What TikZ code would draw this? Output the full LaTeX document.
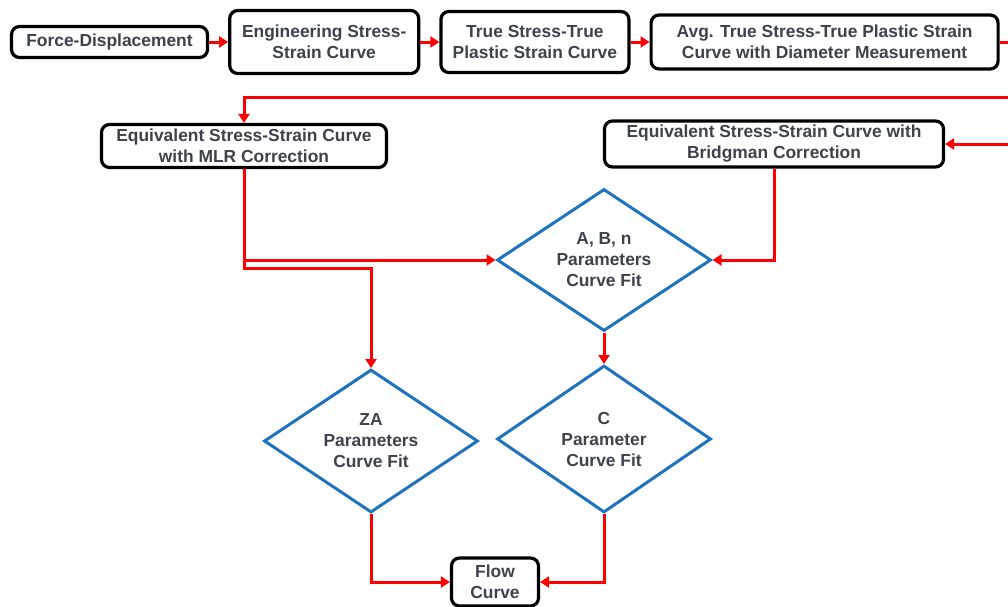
\documentclass[tikz,border=0pt]{standalone}
\usepackage{fontspec}
\setmainfont{Liberation Sans}
\usepackage{tikz}
\usetikzlibrary{arrows.meta,positioning,chains,shapes.geometric}
\definecolor{txtgray}{HTML}{3E424C}
\definecolor{fitblue}{RGB}{31,115,190}

\begin{document}
\begin{tikzpicture}[
	x=1pt, y=-1pt,
	start chain=1 going right,
	node distance=19pt,
	every node/.style={font=\bfseries\fontsize{17.4}{21}\selectfont, text=txtgray},
	proc/.style={
		rectangle,
		rounded corners=8pt,
		draw=black,
		line width=3.2pt,
		fill=white,
		align=center,
		inner sep=0pt
		},
	top/.style={
		proc,
		on chain=1
	},
	fitd/.style={
		diamond,
		draw=fitblue,
		line width=3pt,
		aspect=1.5,
		align=center,
		inner sep=0pt,
		minimum width=214pt,
		minimum height=142pt
	},
	link/.style={
		draw=red,
		line width=3pt,
		-{Triangle[length=9pt,width=11pt]}
	}
]
\useasboundingbox (0,0) rectangle (1008,606);

% Top row
\node [top, minimum width=196pt, minimum height=31pt] (Force) at (109.5,42) {Force-Displacement};
\node [top, minimum width=189pt, minimum height=63pt] (Eng) {Engineering Stress-\\Strain Curve};
\node [top, minimum width=188pt, minimum height=61pt] (True) {True Stress-True\\Plastic Strain Curve};
\node [top, minimum width=347pt, minimum height=54pt] (Avg) {Avg. True Stress-True Plastic Strain\\Curve with Diameter Measurement};

% Corrections
\node [proc, minimum width=285pt, minimum height=43pt] (MLR) at (244,146) {Equivalent Stress-Strain Curve\\with MLR Correction};
\node [proc, minimum width=339pt, minimum height=46pt] (Bridg) at (774,144) {Equivalent Stress-Strain Curve with\\Bridgman Correction};

% Curve fits
\node [fitd] (ABn) at (604,260) {A, B, n\\Parameters\\Curve Fit};
\node [fitd, minimum height=143pt] (ZA) at (371,441) {ZA\\Parameters\\Curve Fit};
\node [fitd, minimum height=147pt] (C) at (604,439) {C\\Parameter\\Curve Fit};
\node [proc, minimum width=87pt, minimum height=48pt] (Flow) at (495,582) {Flow\\Curve};

\coordinate (ret) at (1020,97);

\draw [link] (Force) -- (Eng);
\draw [link] (Eng) -- (True);
\draw [link] (True) -- (Avg);
\draw [link] (Avg.east) -| (ret) -| (MLR.north);
\draw [link] (ret) |- (Bridg.east);
\draw [link] (MLR.south) |- (ABn.west);
\draw [link] (MLR.south) -- ++(0,99) -| (ZA.north);
\draw [link] (Bridg.south) |- (ABn.east);
\draw [link] (ABn.south) -- (C.north);
\draw [link] (ZA.south) |- (Flow.west);
\draw [link] (C.south) |- (Flow.east);

\end{tikzpicture}
\end{document}
